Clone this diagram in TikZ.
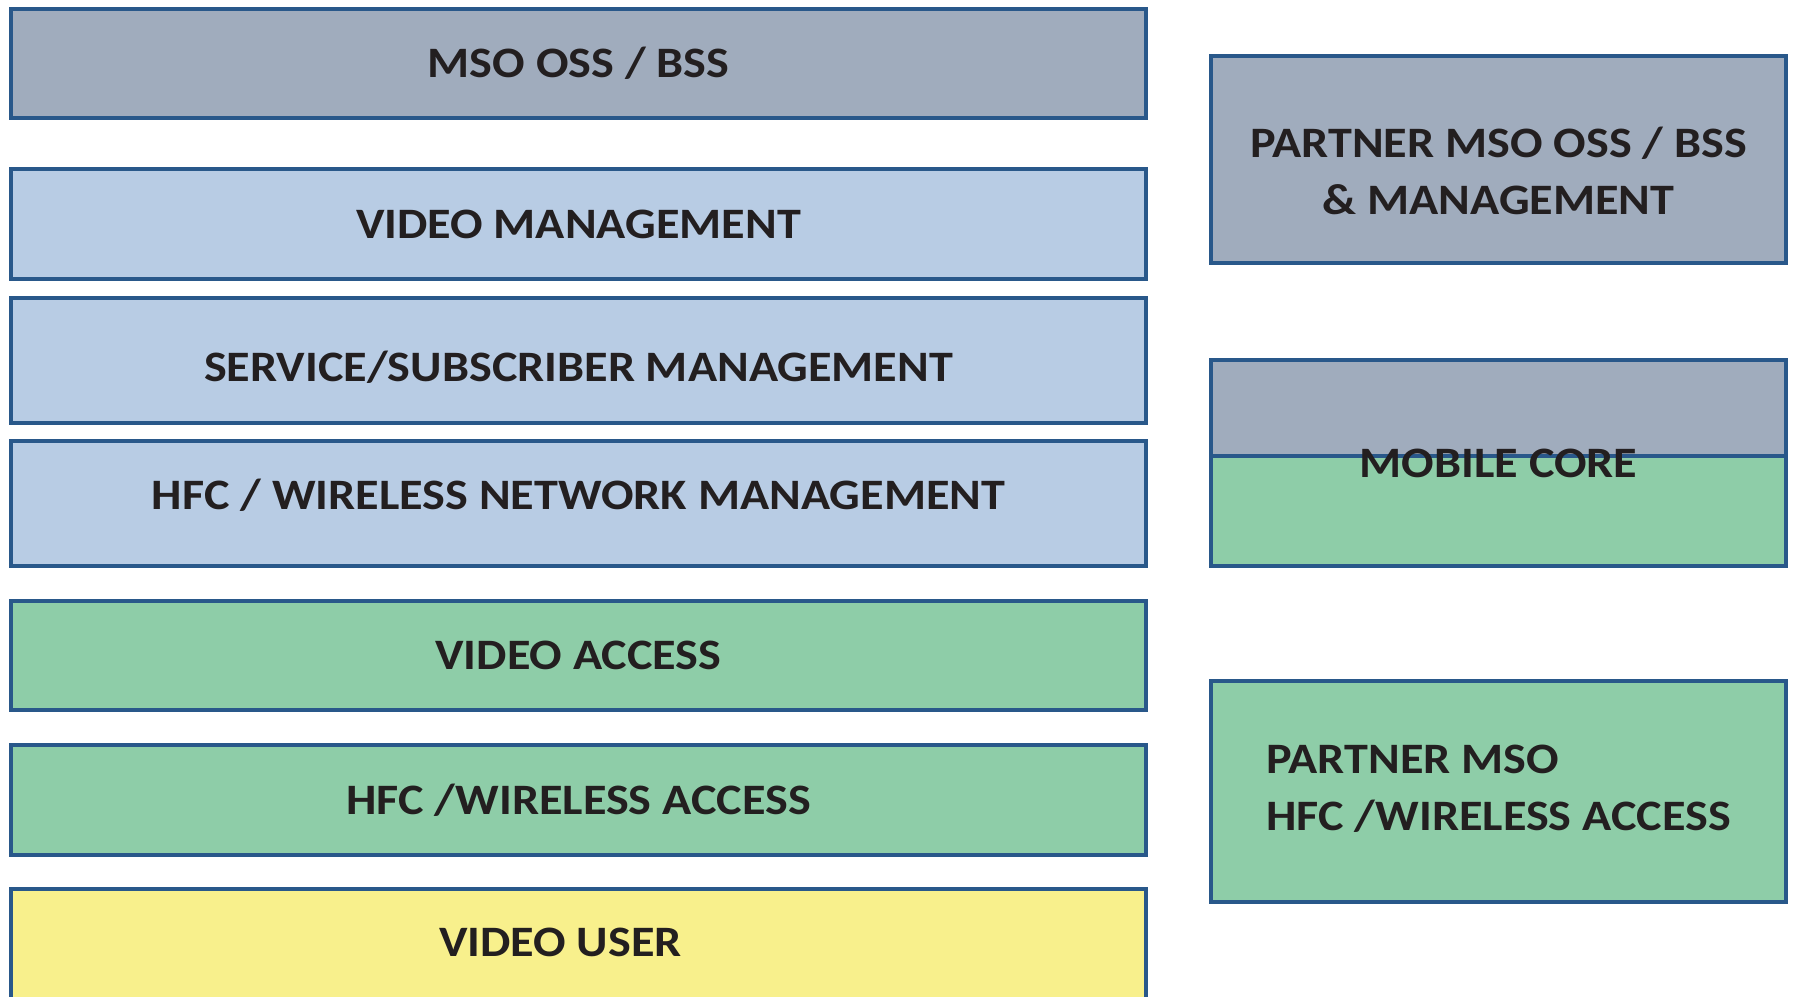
\documentclass[tikz,border=0pt]{standalone}
\usepackage{fontspec}
\setmainfont{Carlito}[FakeStretch=1.11]
\usetikzlibrary{positioning}
\definecolor{edgeblue}{RGB}{41,88,138}
\definecolor{slategray}{RGB}{160,172,189}
\definecolor{paleblue}{RGB}{184,204,228}
\definecolor{accessgreen}{RGB}{142,205,168}
\definecolor{useryellow}{RGB}{248,240,140}
\definecolor{inkblack}{RGB}{35,31,32}

\begin{document}
\begin{tikzpicture}[x=0.5pt, y=-0.5pt,
    layer/.style={draw=edgeblue, line width=2pt, inner sep=0pt, text=inkblack,
      font=\fontsize{21.7}{28.5}\selectfont\bfseries},
    stackbox/.style={layer, minimum width=567.5pt},
    sidebox/.style={layer, minimum width=287.5pt}]
  \useasboundingbox (0,0) rectangle (1796,997);

  % Left stack
  \node[stackbox, fill=slategray, minimum height=54.5pt] (oss) at (578.5, 63.5) {MSO OSS / BSS};
  \node[stackbox, fill=paleblue, minimum height=55pt] (vidmgmt) at (578.5, 224) {VIDEO MANAGEMENT};
  \node[stackbox, fill=paleblue, minimum height=62.5pt] (submgmt) at (578.5, 360.5)
    {\raisebox{-10.5pt}[0pt][0pt]{SERVICE/SUBSCRIBER MANAGEMENT}};
  \node[stackbox, fill=paleblue, minimum height=62.5pt] (netmgmt) at (578.5, 503.5)
    {\raisebox{-3pt}[0pt][0pt]{HFC / WIRELESS NETWORK MANAGEMENT}};
  \node[stackbox, fill=accessgreen, minimum height=54.5pt] (vidaccess) at (578.5, 655.5) {VIDEO ACCESS};
  \node[stackbox, fill=accessgreen, minimum height=55pt] (hfcaccess) at (578.5, 800) {HFC /WIRELESS ACCESS};
  \node[stackbox, fill=useryellow, minimum height=62pt] (user) at (578.5, 951)
    {\raisebox{-2.7pt}[0pt][0pt]{VIDEO USER}\hspace*{18pt}};

  % Partner side
  \node[sidebox, fill=slategray, minimum height=103.5pt, align=center] (partneross) at (1498.5, 159.5)
    {\rule{0pt}{27pt}PARTNER MSO OSS / BSS\\\& MANAGEMENT};
  \node[sidebox, fill=accessgreen, minimum height=103pt,
    path picture={\fill[slategray] (path picture bounding box.north west) rectangle ([yshift=3.5pt]path picture bounding box.east);
      \draw[edgeblue, line width=2pt] ([yshift=3.5pt]path picture bounding box.west) -- ([yshift=3.5pt]path picture bounding box.east);}]
    (core) at (1498.5, 463) {MOBILE CORE};
  \node[sidebox, fill=accessgreen, minimum height=110.5pt, align=left] (partneraccess) at (1498.5, 791.5)
    {PARTNER MSO\\HFC /WIRELESS ACCESS\\[-24.5pt]};
\end{tikzpicture}
\end{document}
